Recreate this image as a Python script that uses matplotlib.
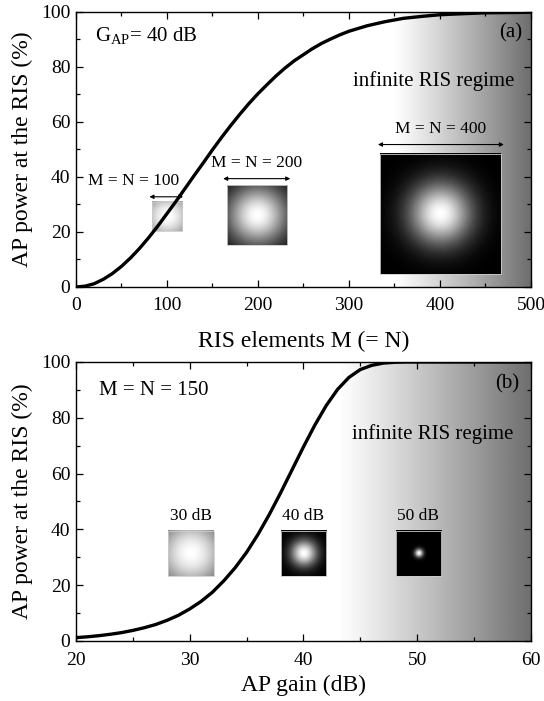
import numpy as np
import matplotlib
matplotlib.use("Agg")
import matplotlib.pyplot as plt
from matplotlib.ticker import MultipleLocator

plt.rcParams['font.family'] = ['Liberation Serif', 'DejaVu Serif']
plt.rcParams['mathtext.fontset'] = 'custom'
plt.rcParams['mathtext.rm'] = 'Liberation Serif'
plt.rcParams['mathtext.it'] = 'Liberation Serif:italic'

# ---------------- data ----------------
# panel (a): RIS elements M (= N) vs AP power at the RIS (%)
m_elements = [0, 10, 20, 30, 40, 50, 60, 70, 80, 90, 100, 110, 120, 130, 140,
              150, 160, 170, 180, 190, 200, 210, 220, 230, 240, 250, 260, 270,
              280, 290, 300, 320, 340, 360, 380, 400, 420, 450, 500]
power_a = [0.0, 0.3, 1.2, 2.8, 4.9, 7.5, 10.6, 14.1, 18.0, 22.2, 26.7, 31.2,
           35.9, 40.6, 45.2, 49.9, 54.4, 58.7, 62.8, 66.7, 70.3, 73.6, 76.8,
           79.7, 82.3, 84.5, 86.7, 88.6, 90.2, 91.7, 93.0, 95.0, 96.5, 97.7,
           98.4, 99.0, 99.3, 99.7, 99.9]

# panel (b): AP gain (dB) vs AP power at the RIS (%)
gain_db = [20, 21, 22, 23, 24, 25, 26, 27, 28, 29, 30, 31, 32, 33, 34, 35, 36,
           37, 38, 39, 40, 41, 42, 43, 44, 45, 46, 47, 48, 49, 50, 55, 60]
power_b = [1.2, 1.5, 1.9, 2.4, 3.0, 3.8, 4.75, 5.9, 7.4, 9.2, 11.5, 14.2, 17.5,
           21.6, 26.3, 31.8, 38.2, 45.4, 53.2, 61.4, 69.6, 77.4, 84.4, 90.2,
           94.5, 97.3, 98.8, 99.6, 99.9, 100.0, 100.0, 100.0, 100.0]

# inset beam footprints, panel (a)
insets_a_labels = ["M = N = 100", "M = N = 200", "M = N = 400"]
insets_a_center_x = [99.5, 198.6, 400.6]
insets_a_width = [33, 66, 132]
insets_a_bottom = [20.3, 15.3, 4.7]
insets_a_top = [30.9, 37.0, 48.4]
insets_a_beam = [1.43, 0.71, 0.36]   # relative beam width
insets_a_arrow_y = [32.8, 39.4, 51.8]
insets_a_arrow_x0 = [80.7, 161.7, 331.8]
insets_a_arrow_x1 = [117.7, 235.5, 470.2]
insets_a_label_xy = [(63, 38.7), (198.8, 45.1), (400.6, 57.3)]

# inset beam footprints, panel (b)
insets_b_labels = ["30 dB", "40 dB", "50 dB"]
insets_b_center_x = [30.1, 40.0, 50.1]
insets_b_halfwidth = 2.0
insets_b_bottom = 23.4
insets_b_top = 39.6
insets_b_beam = [1.26, 0.40, 0.127]
insets_b_label_y = 44.8

# ---------------- figure ----------------
fig = plt.figure(figsize=(5.44, 7.01), dpi=100)
ax_a = fig.add_axes([0.1397, 0.5906, 0.8364, 0.3923])
ax_b = fig.add_axes([0.1397, 0.0856, 0.8364, 0.3980])

TICK_FS = 14
LABEL_FS = 17


def style_axis(ax, xpad):
    ax.tick_params(which='both', direction='in', top=True, right=True,
                   labelsize=TICK_FS, width=0.9)
    ax.tick_params(axis='x', which='both', pad=xpad)
    ax.tick_params(axis='y', which='both', pad=4)
    ax.tick_params(which='major', length=5)
    ax.tick_params(which='minor', length=3)
    for s in ax.spines.values():
        s.set_linewidth(1.0)


def gradient(ax, x0, x1, dark=0.43):
    g = np.linspace(0, 1, 256)
    vals = 1 - (1 - dark) * g ** 1.1
    ax.imshow(vals[np.newaxis, :], extent=[x0, x1, 0, 100], aspect='auto',
              cmap='gray', vmin=0, vmax=1, zorder=0, interpolation='bilinear')


def beam(ax, x0, x1, y0, y1, w_rel):
    n = 120
    u = np.linspace(-0.5, 0.5, n)
    X, Y = np.meshgrid(u, u)
    img = np.exp(-2 * (X ** 2 + Y ** 2) / w_rel ** 2)
    ax.imshow(img, extent=[x0, x1, y0, y1], aspect='auto', cmap='gray',
              vmin=0, vmax=1, zorder=2, interpolation='bilinear')
    ax.plot([x0, x1, x1, x0, x0], [y0, y0, y1, y1, y0], color='#cccccc',
            lw=0.6, zorder=2.1)


# ---- panel (a)
gradient(ax_a, 350, 500)
for i in range(3):
    cx = insets_a_center_x[i]
    hw = insets_a_width[i] / 2
    beam(ax_a, cx - hw, cx + hw, insets_a_bottom[i], insets_a_top[i],
         insets_a_beam[i])
    ax_a.annotate('', xy=(insets_a_arrow_x1[i], insets_a_arrow_y[i]),
                  xytext=(insets_a_arrow_x0[i], insets_a_arrow_y[i]),
                  arrowprops=dict(arrowstyle='<|-|>', lw=0.8, color='k',
                                  mutation_scale=6, shrinkA=0, shrinkB=0),
                  zorder=4)
    ax_a.text(*insets_a_label_xy[i], insets_a_labels[i], ha='center',
              va='center', fontsize=12.5, zorder=4)
ax_a.plot(m_elements, power_a, color='k', lw=2.4, zorder=3,
          solid_capstyle='butt')
ax_a.set_xlim(0, 500)
ax_a.set_ylim(0, 100)
ax_a.xaxis.set_major_locator(MultipleLocator(100))
ax_a.xaxis.set_minor_locator(MultipleLocator(50))
ax_a.yaxis.set_major_locator(MultipleLocator(20))
ax_a.yaxis.set_minor_locator(MultipleLocator(10))
style_axis(ax_a, 7)
ax_a.set_xlabel('RIS elements M (= N)', fontsize=LABEL_FS, labelpad=12)
ax_a.set_ylabel('AP power at the RIS (%)', fontsize=LABEL_FS, labelpad=6)
ax_a.text(21, 91.5, r'G$_{\mathrm{AP}}$= 40 dB', fontsize=15, ha='left',
          va='center')
ax_a.text(490, 92.5, '(a)', fontsize=15, ha='right', va='center')
ax_a.text(393, 75, 'infinite RIS regime', fontsize=15, ha='center',
          va='center')

# ---- panel (b)
gradient(ax_b, 43, 60)
for i in range(3):
    cx = insets_b_center_x[i]
    beam(ax_b, cx - insets_b_halfwidth, cx + insets_b_halfwidth,
         insets_b_bottom, insets_b_top, insets_b_beam[i])
    ax_b.text(cx, insets_b_label_y, insets_b_labels[i], ha='center',
              va='center', fontsize=12.5, zorder=4)
ax_b.plot(gain_db, power_b, color='k', lw=2.4, zorder=3)
ax_b.set_xlim(20, 60)
ax_b.set_ylim(0, 100)
ax_b.xaxis.set_major_locator(MultipleLocator(10))
ax_b.xaxis.set_minor_locator(MultipleLocator(5))
ax_b.yaxis.set_major_locator(MultipleLocator(20))
ax_b.yaxis.set_minor_locator(MultipleLocator(10))
style_axis(ax_b, 8)
ax_b.set_xlabel('AP gain (dB)', fontsize=LABEL_FS, labelpad=4)
ax_b.set_ylabel('AP power at the RIS (%)', fontsize=LABEL_FS, labelpad=6)
ax_b.text(22.0, 89.7, 'M = N = 150', fontsize=15, ha='left', va='center')
ax_b.text(59.0, 92.0, '(b)', fontsize=15, ha='right', va='center')
ax_b.text(51.4, 74, 'infinite RIS regime', fontsize=15, ha='center',
          va='center')

fig.savefig('out.png', dpi=100)
